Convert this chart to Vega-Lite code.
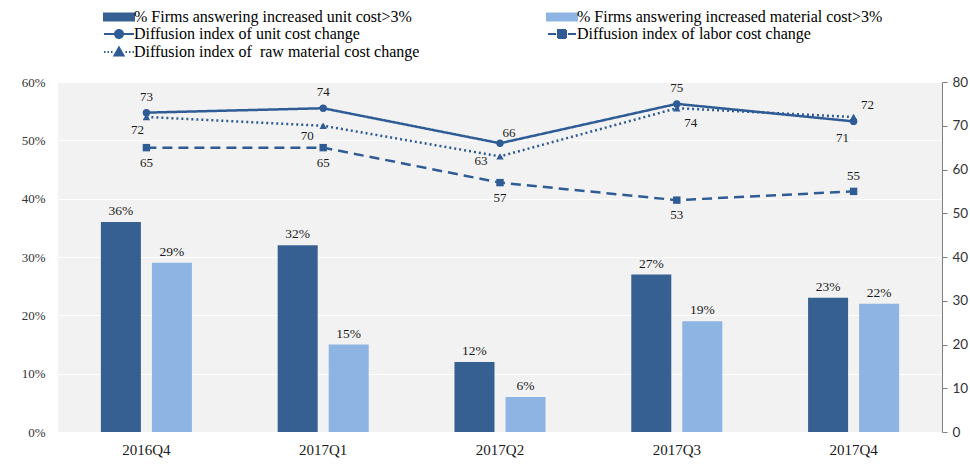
{
  "$schema": "https://vega.github.io/schema/vega-lite/v6.json",
  "width": 884,
  "height": 350,
  "autosize": {"type": "none"},
  "padding": {"left": 58, "top": 82, "right": 28, "bottom": 38},
  "background": "white",
  "config": {
    "view": {"fill": "#F2F2F2", "stroke": null},
    "text": {"font": "Liberation Serif", "fontSize": 13, "fill": "#1a1a1a"},
    "legend": {"labelFont": "Liberation Serif", "labelFontSize": 16, "labelColor": "#000000", "labelLimit": 500}
  },
  "data": {
    "values": [
      {"q": "2016Q4", "k": "a", "s": "% Firms answering increased unit cost>3%", "v": 0.36},
      {"q": "2017Q1", "k": "a", "s": "% Firms answering increased unit cost>3%", "v": 0.32},
      {"q": "2017Q2", "k": "a", "s": "% Firms answering increased unit cost>3%", "v": 0.12},
      {"q": "2017Q3", "k": "a", "s": "% Firms answering increased unit cost>3%", "v": 0.27},
      {"q": "2017Q4", "k": "a", "s": "% Firms answering increased unit cost>3%", "v": 0.23},
      {"q": "2016Q4", "k": "b", "s": "% Firms answering increased material cost>3%", "v": 0.29},
      {"q": "2017Q1", "k": "b", "s": "% Firms answering increased material cost>3%", "v": 0.15},
      {"q": "2017Q2", "k": "b", "s": "% Firms answering increased material cost>3%", "v": 0.06},
      {"q": "2017Q3", "k": "b", "s": "% Firms answering increased material cost>3%", "v": 0.19},
      {"q": "2017Q4", "k": "b", "s": "% Firms answering increased material cost>3%", "v": 0.22},
      {"q": "2016Q4", "k": "c", "s": "Diffusion index of unit cost change", "v": 73},
      {"q": "2017Q1", "k": "c", "s": "Diffusion index of unit cost change", "v": 74},
      {"q": "2017Q2", "k": "c", "s": "Diffusion index of unit cost change", "v": 66},
      {"q": "2017Q3", "k": "c", "s": "Diffusion index of unit cost change", "v": 75},
      {"q": "2017Q4", "k": "c", "s": "Diffusion index of unit cost change", "v": 71},
      {"q": "2016Q4", "k": "d", "s": "Diffusion index of labor cost change", "v": 65},
      {"q": "2017Q1", "k": "d", "s": "Diffusion index of labor cost change", "v": 65},
      {"q": "2017Q2", "k": "d", "s": "Diffusion index of labor cost change", "v": 57},
      {"q": "2017Q3", "k": "d", "s": "Diffusion index of labor cost change", "v": 53},
      {"q": "2017Q4", "k": "d", "s": "Diffusion index of labor cost change", "v": 55},
      {"q": "2016Q4", "k": "e", "s": "Diffusion index of\u00a0 raw material cost change", "v": 72},
      {"q": "2017Q1", "k": "e", "s": "Diffusion index of\u00a0 raw material cost change", "v": 70},
      {"q": "2017Q2", "k": "e", "s": "Diffusion index of\u00a0 raw material cost change", "v": 63},
      {"q": "2017Q3", "k": "e", "s": "Diffusion index of\u00a0 raw material cost change", "v": 74},
      {"q": "2017Q4", "k": "e", "s": "Diffusion index of\u00a0 raw material cost change", "v": 72}
    ]
  },
  "encoding": {
    "x": {
      "field": "q",
      "type": "nominal",
      "sort": null,
      "scale": {"paddingInner": 0, "paddingOuter": 0},
      "axis": {
        "title": null,
        "labelAngle": 0,
        "domain": false,
        "ticks": false,
        "labelPadding": 10,
        "labelFont": "Liberation Serif",
        "labelFontSize": 15,
        "labelColor": "#1a1a1a"
      }
    }
  },
  "layer": [
    {
      "transform": [{"filter": "datum.k == 'a' || datum.k == 'b'"}],
      "encoding": {
        "y": {
          "field": "v",
          "type": "quantitative",
          "scale": {"domain": [0, 0.6], "nice": false},
          "axis": {
            "title": null,
            "format": ".0%",
            "values": [0, 0.1, 0.2, 0.3, 0.4, 0.5, 0.6],
            "grid": true,
            "gridColor": "#ffffff",
            "gridWidth": 1,
            "domain": false,
            "ticks": false,
            "labelPadding": 13,
            "labelFont": "Liberation Serif",
            "labelFontSize": 13,
            "labelColor": "#333333"
          }
        },
        "xOffset": {
          "field": "s",
          "type": "nominal",
          "sort": null,
          "scale": {
            "domain": ["% Firms answering increased unit cost>3%", "% Firms answering increased material cost>3%"],
            "paddingInner": 0.216,
            "paddingOuter": 0.84
          }
        }
      },
      "layer": [
        {
          "mark": {"type": "bar"},
          "encoding": {
            "color": {
              "field": "s",
              "type": "nominal",
              "scale": {
                "domain": [
                  "% Firms answering increased unit cost>3%",
                  "Diffusion index of unit cost change",
                  "Diffusion index of\u00a0 raw material cost change",
                  "% Firms answering increased material cost>3%",
                  "Diffusion index of labor cost change"
                ],
                "range": ["#366092", "#2F5C95", "#2F5C95", "#8DB4E2", "#2F5C95"]
              },
              "legend": {
                "title": null,
                "orient": "none",
                "legendX": 53,
                "legendY": -73,
                "columns": 2,
                "columnPadding": 124,
                "rowPadding": 1,
                "padding": 0,
                "symbolSize": 100,
                "labelOffset": 7,
                "labelFont": "Liberation Serif",
                "labelFontSize": 16,
                "labelColor": "#000000",
                "labelLimit": 500,
                "encode": {
                  "symbols": {
                    "update": {
                      "shape": {"signal": "(datum.index == 0 || datum.index == 3) ? 'M-3.2,-0.9H3.2V0.9H-3.2Z' : datum.index == 1 ? 'M-3,0H3M0.8,0A0.8,0.8,0,1,1,-0.8,0A0.8,0.8,0,1,1,0.8,0Z' : datum.index == 4 ? 'M-2.8,0H-1.2M1.2,0H2.8M-0.8,-0.8H0.8V0.8H-0.8Z' : 'M-3,0H-2.7M-2.3,0H-2M-1.6,0H-1.3M1.3,0H1.6M2,0H2.3M2.7,0H3M0,-0.9L0.9,0.7H-0.9Z'"},
                      "fill": {"scale": "color", "field": "value"},
                      "stroke": {"scale": "color", "field": "value"},
                      "strokeWidth": {"signal": "(datum.index == 0 || datum.index == 3) ? 0 : 2"},
                      "strokeDash": {"value": [1, 0]},
                      "opacity": {"value": 1},
                      "fillOpacity": {"value": 1}
                    }
                  }
                }
              }
            }
          }
        },
        {
          "mark": {"type": "text", "baseline": "bottom", "dy": -4, "fontSize": 13.5},
          "encoding": {
            "text": {"field": "v", "type": "quantitative", "format": ".0%"}
          }
        }
      ]
    },
    {
      "transform": [{"filter": "datum.k == 'c' || datum.k == 'd' || datum.k == 'e'"}],
      "encoding": {
        "y": {
          "field": "v",
          "type": "quantitative",
          "scale": {"domain": [0, 80], "nice": false},
          "axis": {
            "title": null,
            "orient": "right",
            "values": [0, 10, 20, 30, 40, 50, 60, 70, 80],
            "grid": false,
            "domain": true,
            "domainColor": "#7f7f7f",
            "ticks": true,
            "tickColor": "#7f7f7f",
            "tickSize": 5,
            "labelPadding": 5,
            "labelFont": "Lato",
            "labelFontSize": 13.5,
            "labelColor": "#333333"
          }
        }
      },
      "layer": [
        {
          "mark": {"type": "line", "strokeWidth": 2.5},
          "encoding": {
            "color": {"field": "s", "type": "nominal"},
            "strokeDash": {
              "field": "k",
              "type": "nominal",
              "scale": {"domain": ["c", "d", "e"], "range": [[1, 0], [10, 6], [2, 3]]},
              "legend": null
            }
          }
        },
        {
          "mark": {"type": "point", "filled": true, "opacity": 1, "size": 55},
          "encoding": {
            "color": {"field": "s", "type": "nominal"},
            "shape": {
              "field": "k",
              "type": "nominal",
              "scale": {"domain": ["c", "d", "e"], "range": ["circle", "square", "triangle-up"]},
              "legend": null
            }
          }
        },
        {
          "transform": [{"filter": "datum.k == 'c' && (datum.q == '2016Q4' || datum.q == '2017Q1' || datum.q == '2017Q3')"}],
          "mark": {"type": "text", "dy": -16},
          "encoding": {"text": {"field": "v", "type": "quantitative"}}
        },
        {
          "transform": [{"filter": "datum.k == 'c' && datum.q == '2017Q2'"}],
          "mark": {"type": "text", "dx": 9, "dy": -10},
          "encoding": {"text": {"field": "v", "type": "quantitative"}}
        },
        {
          "transform": [{"filter": "datum.k == 'c' && datum.q == '2017Q4'"}],
          "mark": {"type": "text", "dx": -11, "dy": 17},
          "encoding": {"text": {"field": "v", "type": "quantitative"}}
        },
        {
          "transform": [{"filter": "datum.k == 'e' && datum.q == '2016Q4'"}],
          "mark": {"type": "text", "dx": -9, "dy": 13},
          "encoding": {"text": {"field": "v", "type": "quantitative"}}
        },
        {
          "transform": [{"filter": "datum.k == 'e' && datum.q == '2017Q1'"}],
          "mark": {"type": "text", "dx": -16, "dy": 10},
          "encoding": {"text": {"field": "v", "type": "quantitative"}}
        },
        {
          "transform": [{"filter": "datum.k == 'e' && datum.q == '2017Q2'"}],
          "mark": {"type": "text", "dx": -19, "dy": 5},
          "encoding": {"text": {"field": "v", "type": "quantitative"}}
        },
        {
          "transform": [{"filter": "datum.k == 'e' && datum.q == '2017Q3'"}],
          "mark": {"type": "text", "dx": 14, "dy": 15},
          "encoding": {"text": {"field": "v", "type": "quantitative"}}
        },
        {
          "transform": [{"filter": "datum.k == 'e' && datum.q == '2017Q4'"}],
          "mark": {"type": "text", "dx": 14, "dy": -12},
          "encoding": {"text": {"field": "v", "type": "quantitative"}}
        },
        {
          "transform": [{"filter": "datum.k == 'd' && datum.q != '2017Q4'"}],
          "mark": {"type": "text", "dy": 15},
          "encoding": {"text": {"field": "v", "type": "quantitative"}}
        },
        {
          "transform": [{"filter": "datum.k == 'd' && datum.q == '2017Q4'"}],
          "mark": {"type": "text", "dy": -15},
          "encoding": {"text": {"field": "v", "type": "quantitative"}}
        }
      ]
    }
  ],
  "resolve": {"scale": {"y": "independent"}}
}
